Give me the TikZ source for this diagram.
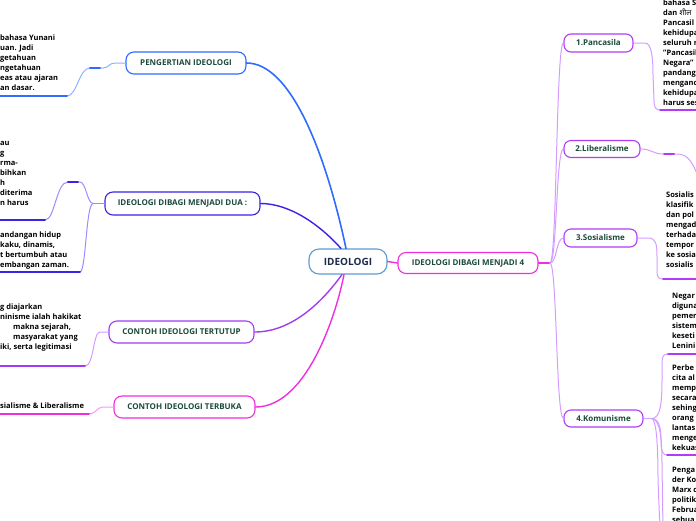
\documentclass[tikz,border=0pt]{standalone}
\usepackage{fontspec}
\setmainfont{Open Sans}
\newfontfamily\devfont[Script=Devanagari]{Noto Sans}

\definecolor{labelGreen}{HTML}{1B4A3A}
\definecolor{rootBlue}{HTML}{5B9BD5}
\definecolor{rootText}{HTML}{1C2B4A}
\definecolor{brBlue}{HTML}{2F6BFF}
\definecolor{brBlueL}{HTML}{8FB0FF}
\definecolor{brIndigo}{HTML}{3A22E8}
\definecolor{brIndigoL}{HTML}{9C8CFF}
\definecolor{brPurple}{HTML}{A23CF2}
\definecolor{brPurpleL}{HTML}{D39BFF}
\definecolor{brPink}{HTML}{F02EE0}
\definecolor{brPinkL}{HTML}{FF96F2}
\definecolor{brViolet}{HTML}{B13CF5}
\definecolor{brVioletL}{HTML}{D49CFF}

\begin{document}
\begin{tikzpicture}[x=1pt, y=-1pt, line cap=round, line join=round,
  topic/.style={draw, rounded corners=8pt, fill=white, line width=1.1pt,
    inner sep=0pt, minimum height=22pt, text=labelGreen,
    font=\fontsize{8}{9}\selectfont\bfseries},
  sub/.style={topic, rounded corners=7pt, minimum height=18pt, draw=brViolet},
  body/.style={anchor=base west, align=left, inner sep=0pt,
    font=\fontsize{7.5}{10}\selectfont\bfseries},
  link/.style={line width=1pt},
  accent/.style={line width=2pt}]

  \useasboundingbox (0,0) rectangle (696,520);
  \clip (0,0) rectangle (696,520);

  % ===== topik utama =====
  \node[topic, draw=rootBlue, text=rootText, minimum width=78pt, minimum height=25pt,
    rounded corners=10pt, font=\fontsize{10}{11}\selectfont\bfseries] (root) at (348,261.5) {IDEOLOGI};

  % ===== cabang kiri =====
  \node[topic, draw=brBlue, minimum width=120pt] (def) at (186,63) {PENGERTIAN IDEOLOGI};
  \node[topic, draw=brIndigo, minimum width=155pt, minimum height=23pt] (two) at (182.5,203.5) {IDEOLOGI DIBAGI MENJADI DUA :};
  \node[topic, draw=brPurple, minimum width=145pt] (closed) at (181.5,332) {CONTOH IDEOLOGI TERTUTUP};
  \node[topic, draw=brPink, minimum width=141pt] (open) at (184.5,407) {CONTOH IDEOLOGI TERBUKA};

  % ===== cabang kanan =====
  \node[topic, draw=brPink, minimum width=140pt, minimum height=21pt] (four) at (468,263) {IDEOLOGI DIBAGI MENJADI 4};
  \node[sub, minimum width=69pt] (panc) at (598.5,43) {1.Pancasila};
  \node[sub, minimum width=76pt, minimum height=17pt] (lib) at (602,149) {2.Liberalisme};
  \node[sub, minimum width=73pt] (sos) at (600.5,238) {3.Sosialisme};
  \node[sub, minimum width=79pt, minimum height=17pt] (kom) at (603.5,418.5) {4.Komunisme};

  % ===== teks (titik = garis dasar baris terakhir) =====
  \node[body] (defText) at (0,90.5) {bahasa Yunani\\uan. Jadi\\getahuan\\ngetahuan\\eas atau ajaran\\an dasar.};
  \node[body] (twoTextA) at (0,205.5) {au\\g\\rma-\\bihkan\\h\\diterima\\n harus};
  \node[body] (twoTextB) at (0,267.5) {andangan hidup\\kaku, dinamis,\\t bertumbuh atau\\embangan zaman.};
  \node[body] (closedText) at (0,349.5) {g diajarkan\\ninisme ialah hakikat\\\hspace*{13pt}makna sejarah,\\\hspace*{13pt}masyarakat yang\\iki, serta legitimasi};
  \node[body] (openText) at (0,408.5) {sialisme \& Liberalisme};

  \node[body] (pancText) at (663,105.5) {bahasa S\\dan {\devfont शील}\\Pancasil\\kehidupa\\seluruh r\\"Pancasil\\Negara"\\pandang\\menganc\\kehidupa\\harus ses};
  \node[body] (sosText) at (666,267.5) {Sosialis\\klasifik\\dan pol\\mengad\\terhada\\tempor\\ke sosia\\sosialis};
  \node[body] (komTextA) at (672,348.5) {Negar\\diguna\\pemer\\sistem\\keseti\\Lenini};
  \node[body] (komTextB) at (672,450.5) {Perbe\\cita al\\memp\\secara\\sehing\\orang\\lantas\\menge\\kekuas};
  \node[body] (komTextC) at (672,522.5) {Penga\\der Ko\\Marx d\\politik\\Februa\\sebua};

  % ===== garis dari pusat =====
  \draw[brBlue, line width=1.6pt] ([xshift=-2pt]root.north) .. controls (325,150) and (290,63) .. (def.east);
  \draw[brIndigo, line width=1.4pt] ([xshift=-7pt]root.north) .. controls (320,225) and (290,203.5) .. (two.east);
  \draw[brPurple, line width=1.4pt] ([xshift=-6pt]root.south) .. controls (320,305) and (290,332) .. (closed.east);
  \draw[brPink, line width=1.4pt] ([xshift=-4pt]root.south) .. controls (335,320) and (305,407) .. (open.east);
  \draw[brPink, line width=1.4pt] (root.east) -- (four.west);

  % ===== kiri: ke teks =====
  \coordinate (defEnd) at (67,96);
  \coordinate (defStart) at (0,96);
  \draw[link, brBlueL] (def.west) -- (115,63) .. controls (109,63) and (109,68) .. (103,68) -- (90,68)
    .. controls (79,68) and (77,96) .. (defEnd);
  \draw[accent, brBlue] (90,68) -- (100,68);
  \draw[accent, brBlue] (defEnd) -- (defStart);

  \coordinate (twoHub) at (93,203.5);
  \coordinate (twoEndA) at (45,220);
  \coordinate (twoStartA) at (0,220);
  \coordinate (twoEndB) at (80,272);
  \coordinate (twoStartB) at (0,272);
  \draw[link, brIndigoL] (two.west) -- (twoHub);
  \draw[link, brIndigoL] (twoHub) .. controls (87,203) and (86,182) .. (80,182) -- (68,182)
    .. controls (56,182) and (55,220) .. (twoEndA);
  \draw[accent, brIndigo] (68,182) -- (78,182);
  \draw[link, brIndigoL] (twoHub) .. controls (86,204) and (86,272) .. (twoEndB);
  \draw[accent, brIndigo] (twoEndA) -- (twoStartA);
  \draw[accent, brIndigo] (twoEndB) -- (twoStartB);

  \coordinate (closedEnd) at (85,366);
  \coordinate (closedStart) at (0,366);
  \draw[link, brPurpleL] (closed.west) -- (100,332) .. controls (93,332) and (94,366) .. (closedEnd);
  \draw[accent, brPurple] (closedEnd) -- (closedStart);

  \coordinate (openEnd) at (89,414);
  \coordinate (openStart) at (0,414);
  \draw[link, brPinkL] (open.west) -- (103,407) .. controls (97,407) and (96,414) .. (openEnd);
  \draw[accent, brPink] (openEnd) -- (openStart);

  % ===== kanan: ke sub topik =====
  \coordinate (hub) at (550,263);
  \draw[brPink, line width=2pt] (four.east) -- (hub);
  \draw[link, brVioletL] (hub) .. controls (557,263) and (556,43) .. (panc.west);
  \draw[link, brVioletL] (hub) .. controls (557,263) and (556,149) .. (lib.west);
  \draw[link, brVioletL] (hub) .. controls (557,263) and (556,238) .. (sos.west);
  \draw[link, brVioletL] (hub) .. controls (557,263) and (556,418.5) .. (kom.west);

  % ===== kanan: ke teks =====
  \coordinate (pancEnd) at (660,110);
  \coordinate (pancOut) at (700,110);
  \draw[link, brVioletL] (panc.east) -- (645,43) .. controls (652,43) and (653,60) .. (653,75) -- (654,100)
    .. controls (654,108) and (656,110) .. (pancEnd);
  \draw[accent, brViolet] (pancEnd) -- (pancOut);

  \coordinate (libOut) at (700,182);
  \draw[link, brVioletL] (lib.east) .. controls (652,149) and (652,154) .. (664,154) -- (677,154)
    .. controls (688,154) and (693,162) .. (libOut);
  \draw[accent, brViolet] (664,154) -- (674,154);

  \coordinate (sosEnd) at (663,279);
  \coordinate (sosOut) at (700,279);
  \draw[link, brVioletL] (sos.east) -- (648,238) .. controls (656,238) and (657,244) .. (657,257) -- (657,272)
    .. controls (657,277) and (659,279) .. (sosEnd);
  \draw[accent, brViolet] (sosEnd) -- (sosOut);

  \coordinate (komHub) at (652,418.5);
  \coordinate (komEndA) at (668,354);
  \coordinate (komOutA) at (700,354);
  \coordinate (komEndB) at (667,455);
  \coordinate (komOutB) at (700,455);
  \coordinate (komDownA) at (663,530);
  \coordinate (komDownB) at (660,530);
  \draw[link, brVioletL] (kom.east) -- (komHub);
  \draw[link, brVioletL] (komHub) .. controls (660,418) and (662,405) .. (662,380) -- (662,362)
    .. controls (662,356) and (664,354) .. (komEndA);
  \draw[link, brVioletL] (komHub) .. controls (659,419) and (661,428) .. (661,440)
    .. controls (661,452) and (663,455) .. (komEndB);
  \draw[link, brVioletL] (komHub) .. controls (659,420) and (662,432) .. (662,465) -- (komDownA);
  \draw[link, brVioletL] (komHub) .. controls (656,421) and (658,440) .. (658,480) -- (komDownB);
  \draw[accent, brViolet] (komEndA) -- (komOutA);
  \draw[accent, brViolet] (komEndB) -- (komOutB);

\end{tikzpicture}
\end{document}
